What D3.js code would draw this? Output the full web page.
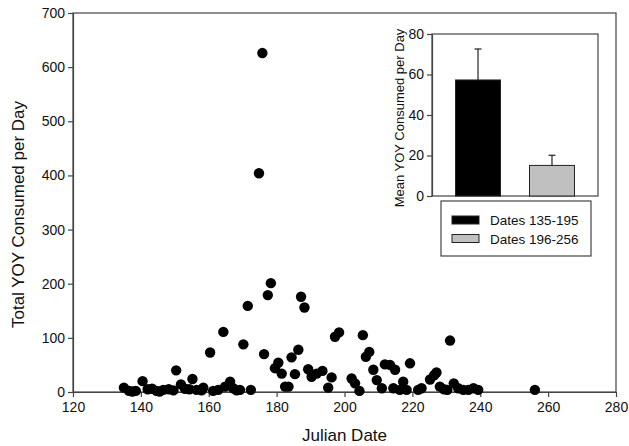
<!DOCTYPE html>
<html>
<head>
<meta charset="utf-8">
<script src="https://cdn.jsdelivr.net/npm/d3@7"></script>
<style>
  html, body { margin: 0; padding: 0; background: #fff; }
  svg { display: block; font-family: "Liberation Sans", Arial, sans-serif; }
</style>
</head>
<body>
<svg id="chart" width="629" height="446"></svg>
<script>
// Julian date of each sampling day and total young-of-year consumed that day
const julianDates = [
  135, 136.5, 137.5, 138.5, 140.5, 142, 143.3, 144.6, 145.5, 146.6,
  148.2, 149.6, 150.4, 151.8, 153, 154.3, 155.2, 156.4, 157.9, 158.4,
  160.4, 161.3, 162.8, 164.3, 164.8, 166.3, 167.2, 168.2, 169.2, 170.2,
  171.5, 172.4, 174.8, 175.8, 176.3, 177.4, 178.3, 179.5, 180.5, 181.5,
  182.5, 183.5, 184.4, 185.4, 186.4, 187.2, 188.2, 189.3, 190.3, 191.8,
  193.5, 195.2, 196.2, 197.2, 198.4, 202.1, 203.1, 204.4, 205.4, 206.3,
  207.3, 208.5, 209.5, 211, 211.9, 213.4, 214.4, 214.9, 216.3, 217.3,
  218.3, 219.3, 221.7, 222.7, 225.2, 226.4, 227.1, 228.1, 229.3, 230.3,
  231.1, 232.2, 233.5, 235, 236.5, 238, 239.4, 256.1
];
const totalConsumed = [
  8, 2, 1, 2, 20, 5, 6, 2, 1, 4,
  5, 3, 40, 14, 6, 5, 24, 4, 3, 8,
  73, 2, 4, 111, 10, 19, 7, 3, 4, 88,
  159, 4, 404, 626, 70, 179, 201, 44, 54, 34,
  10, 10, 64, 33, 78, 176, 156, 42, 28, 34,
  39, 8, 27, 102, 110, 25, 16, 2, 105, 65,
  74, 41, 22, 7, 51, 50, 7, 41, 4, 19,
  4, 53, 4, 7, 23, 31, 36, 10, 5, 4,
  95, 16, 7, 4, 4, 7, 4, 4
];
const xTicks = [120, 140, 160, 180, 200, 220, 240, 260, 280];
const yTicks = [0, 100, 200, 300, 400, 500, 600, 700];

// Inset: mean consumption for the two date ranges
const periods = ["Dates 135-195", "Dates 196-256"];
const periodMeans = [57.3, 15.1];
const periodErrors = [15.3, 5.0];
const periodColors = ["#000000", "#c0c0c0"];
const insetTicks = [0, 20, 40, 60, 80];

const svg = d3.select("#chart");
const axisColor = "#444";
const font = "'Liberation Sans', Arial, sans-serif";

function styleAxis(g) {
  g.select(".domain").attr("stroke", axisColor).attr("stroke-width", 1.2);
  g.selectAll(".tick line").attr("stroke", axisColor).attr("stroke-width", 1.2);
  g.selectAll(".tick text").attr("fill", "#111")
    .style("font-size", "14px").style("font-family", font);
}

// ---- main scatter plot ----
const M = { left: 73, right: 616, top: 13, bottom: 392 };
const x = d3.scaleLinear().domain([120, 280]).range([M.left, M.right]);
const y = d3.scaleLinear().domain([0, 700]).range([M.bottom, M.top]);

// frame
svg.append("rect")
  .attr("x", M.left).attr("y", M.top)
  .attr("width", M.right - M.left).attr("height", M.bottom - M.top)
  .attr("fill", "none").attr("stroke", axisColor).attr("stroke-width", 1.2);

svg.append("g")
  .attr("transform", `translate(0,${M.bottom})`)
  .call(d3.axisBottom(x).tickValues(xTicks).tickSize(5).tickSizeOuter(0).tickPadding(5))
  .call(styleAxis);
svg.append("g")
  .attr("transform", `translate(${M.left},0)`)
  .call(d3.axisLeft(y).tickValues(yTicks).tickSize(5).tickSizeOuter(0).tickPadding(3))
  .call(styleAxis);

svg.append("text")
  .attr("x", (M.left + M.right) / 2).attr("y", 441)
  .attr("text-anchor", "middle").attr("fill", "#111")
  .style("font-size", "17px")
  .text("Julian Date");
svg.append("text")
  .attr("transform", `translate(24,${(M.top + M.bottom) / 2 + 12}) rotate(-90)`)
  .attr("text-anchor", "middle").attr("fill", "#111")
  .style("font-size", "17px")
  .text("Total YOY Consumed per Day");

const points = julianDates.map((d, i) => ({ day: d, value: totalConsumed[i] }));
svg.append("g").selectAll("circle")
  .data(points).join("circle")
  .attr("cx", d => x(d.day))
  .attr("cy", d => y(d.value))
  .attr("r", 5.2)
  .attr("fill", "#000");

// ---- inset bar chart ----
const I = { left: 432, right: 598, top: 34, bottom: 196 };
const bx = d3.scaleBand().domain(periods).range([I.left, I.right])
  .paddingInner(0.392).paddingOuter(0.318);
const by = d3.scaleLinear().domain([0, 80]).range([I.bottom, I.top]);

svg.append("rect")
  .attr("x", I.left).attr("y", I.top)
  .attr("width", I.right - I.left).attr("height", I.bottom - I.top)
  .attr("fill", "#fff").attr("stroke", axisColor).attr("stroke-width", 1.2);

svg.append("g")
  .attr("transform", `translate(${I.left},0)`)
  .call(d3.axisLeft(by).tickValues(insetTicks).tickSize(5).tickSizeOuter(0).tickPadding(3))
  .call(styleAxis);

svg.append("text")
  .attr("transform", `translate(404,${(I.top + I.bottom) / 2 + 3}) rotate(-90)`)
  .attr("text-anchor", "middle").attr("fill", "#111")
  .style("font-size", "13px")
  .text("Mean YOY Consumed per Day");

const bars = periods.map((p, i) => ({ period: p, mean: periodMeans[i], err: periodErrors[i], color: periodColors[i] }));

// error bars (upper half only, drawn behind the bars)
const eb = svg.append("g").selectAll("g").data(bars).join("g")
  .attr("stroke", "#222").attr("stroke-width", 1.2);
eb.append("line")
  .attr("x1", d => bx(d.period) + bx.bandwidth() / 2)
  .attr("x2", d => bx(d.period) + bx.bandwidth() / 2)
  .attr("y1", d => by(d.mean))
  .attr("y2", d => by(d.mean + d.err));
eb.append("line")
  .attr("x1", d => bx(d.period) + bx.bandwidth() / 2 - 3.5)
  .attr("x2", d => bx(d.period) + bx.bandwidth() / 2 + 3.5)
  .attr("y1", d => by(d.mean + d.err))
  .attr("y2", d => by(d.mean + d.err));

svg.append("g").selectAll("rect").data(bars).join("rect")
  .attr("x", d => bx(d.period))
  .attr("y", d => by(d.mean))
  .attr("width", bx.bandwidth())
  .attr("height", d => by(0) - by(d.mean))
  .attr("fill", d => d.color)
  .attr("stroke", "#222").attr("stroke-width", 1);

// legend
const L = { x: 441, y: 201, w: 150, h: 55 };
svg.append("rect")
  .attr("x", L.x).attr("y", L.y).attr("width", L.w).attr("height", L.h)
  .attr("fill", "#fff").attr("stroke", axisColor).attr("stroke-width", 1.2);
const li = svg.append("g").selectAll("g").data(bars).join("g")
  .attr("transform", (d, i) => `translate(${L.x + 11},${L.y + 15 + i * 18.5})`);
li.append("rect")
  .attr("width", 27).attr("height", 8)
  .attr("fill", d => d.color).attr("stroke", "#222").attr("stroke-width", 1);
li.append("text")
  .attr("x", 38).attr("y", 9)
  .attr("fill", "#111").style("font-size", "13.5px")
  .text(d => d.period);
</script>
</body>
</html>
